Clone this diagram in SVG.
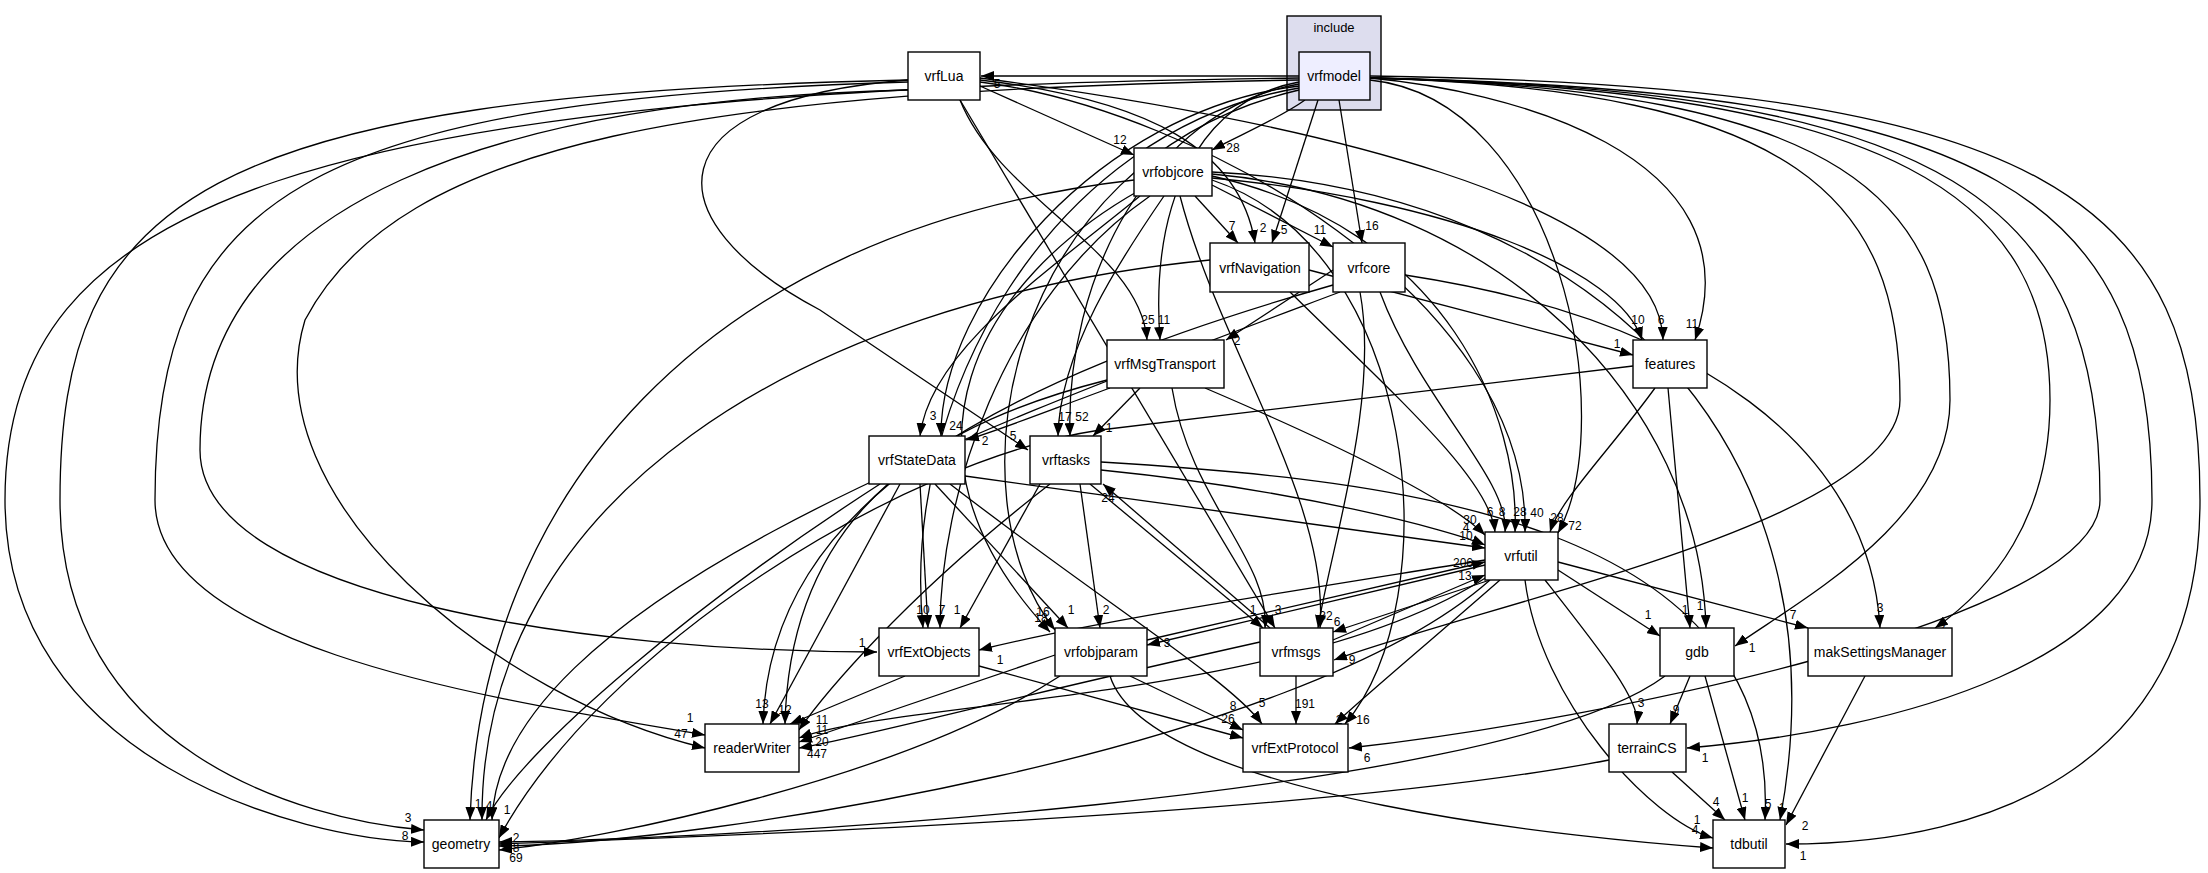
<svg xmlns="http://www.w3.org/2000/svg" width="2208" height="873" viewBox="0 0 2208 873">
<defs>
<marker id="a" markerUnits="userSpaceOnUse" markerWidth="14" markerHeight="10" refX="13" refY="5" orient="auto"><path d="M0,0 L13,5 L0,10 z" fill="#000"/></marker>
<style>
.n rect{fill:#fff;stroke:#000;stroke-width:1.4}
.n text{font-family:"Liberation Sans Narrow","Liberation Sans",sans-serif;font-size:14px;text-anchor:middle}
#e path{fill:none;stroke:#000;stroke-width:1.3;marker-end:url(#a)}
#l text{font-family:"Liberation Sans Narrow","Liberation Sans",sans-serif;font-size:12px;text-anchor:middle}
</style>
</defs>
<rect width="2208" height="873" fill="#fff"/>
<g id="cluster_include"><rect x="1287" y="16" width="94" height="94" fill="#ddddee" stroke="#000" stroke-width="1.4"/><text x="1334" y="32" font-family="Liberation Sans Narrow,Liberation Sans,sans-serif" font-size="13" text-anchor="middle">include</text></g>
<g id="e">
<path d="M1299,76 L981,76"/>
<path d="M1305,100 C1280,118 1240,135 1212,150"/>
<path d="M1318,100 L1272,243"/>
<path d="M1339,100 L1362,243"/>
<path d="M1299,82 C1200,100 1150,200 1160,340"/>
<path d="M1299,86 C1100,110 940,300 941,436"/>
<path d="M1299,84 C1150,110 1065,280 1070,436"/>
<path d="M1370,78 C1500,90 1760,150 1695,340"/>
<path d="M1370,80 C1560,100 1620,420 1558,533"/>
<path d="M1299,88 C1050,130 900,400 923,628"/>
<path d="M1299,90 C1000,160 950,500 1055,630"/>
<path d="M1370,78 C1800,90 1900,200 1900,400 C1900,520 1500,600 1334,660"/>
<path d="M1370,78 C1850,90 1950,200 1950,400 C1950,520 1800,600 1735,646"/>
<path d="M1370,78 C1900,90 2050,200 2050,400 C2050,520 1990,590 1935,628"/>
<path d="M1370,78 C1950,90 2100,200 2100,500 C2100,620 1600,720 1349,748"/>
<path d="M1370,78 C2000,90 2152,200 2152,500 C2152,660 1900,730 1687,748"/>
<path d="M1370,76 C2050,85 2200,200 2200,500 C2200,760 2000,844 1786,844"/>
<path d="M1299,78 C300,90 5,200 5,500 C5,760 300,840 424,842"/>
<path d="M1299,80 C700,90 400,140 305,320 C250,500 500,700 705,748"/>
<path d="M980,86 L1134,155"/>
<path d="M980,80 C1150,100 1240,150 1255,243"/>
<path d="M980,78 C1300,120 1660,200 1663,340"/>
<path d="M980,82 C1200,110 1530,300 1525,532"/>
<path d="M908,80 C650,100 650,220 820,310 L1028,450"/>
<path d="M960,100 L1275,628"/>
<path d="M908,90 C500,100 200,200 200,450 C200,600 600,652 877,652"/>
<path d="M908,82 C300,100 155,200 155,500 C155,650 500,700 705,735"/>
<path d="M908,80 C200,95 60,200 60,500 C60,750 300,820 424,830"/>
<path d="M960,100 C1000,200 1140,250 1147,340"/>
<path d="M1195,196 L1238,243"/>
<path d="M1212,185 L1333,247"/>
<path d="M1140,196 C1050,270 930,350 920,436"/>
<path d="M1164,196 C1120,260 1060,350 1058,436"/>
<path d="M1212,178 C1450,200 1620,270 1642,340"/>
<path d="M1212,176 C1450,230 1520,420 1515,532"/>
<path d="M1212,174 C1500,200 1700,400 1706,628"/>
<path d="M1212,172 C1600,190 1850,450 1780,820"/>
<path d="M1212,180 C1420,250 1450,600 1345,724"/>
<path d="M1180,196 C1220,350 1330,500 1320,628"/>
<path d="M1150,196 C1000,300 940,500 940,628"/>
<path d="M1140,190 C980,280 880,450 1050,632"/>
<path d="M1134,180 C700,230 480,500 470,820"/>
<path d="M1309,270 L1633,355"/>
<path d="M1290,292 C1400,400 1490,480 1495,532"/>
<path d="M1210,260 C800,300 480,500 482,820"/>
<path d="M1333,270 L1226,340"/>
<path d="M1380,292 C1420,400 1510,480 1505,532"/>
<path d="M1405,275 C1700,320 1870,450 1880,628"/>
<path d="M1360,292 C1380,400 1330,550 1318,628"/>
<path d="M1333,285 C1000,380 770,500 763,724"/>
<path d="M1340,292 C1000,420 500,600 492,820"/>
<path d="M1110,388 C1050,410 1000,430 966,440"/>
<path d="M1140,388 L1093,436"/>
<path d="M1205,388 C1350,450 1450,500 1485,535"/>
<path d="M1172,388 C1190,500 1270,560 1265,628"/>
<path d="M1107,380 C950,420 790,500 785,724"/>
<path d="M1655,388 C1610,450 1560,500 1550,532"/>
<path d="M1668,388 L1690,628"/>
<path d="M1633,366 L1100,430 C900,460 600,650 499,838"/>
<path d="M965,476 L1485,548"/>
<path d="M920,484 L928,628"/>
<path d="M935,484 L1068,628"/>
<path d="M950,484 C1100,600 1230,680 1262,724"/>
<path d="M900,484 L770,724"/>
<path d="M880,484 C700,600 520,750 486,820"/>
<path d="M1101,470 C1300,490 1450,530 1485,545"/>
<path d="M1040,484 L960,628"/>
<path d="M1080,484 L1100,628"/>
<path d="M1090,484 L1263,628"/>
<path d="M1050,484 C900,600 820,700 799,730"/>
<path d="M1101,462 C1400,480 1780,520 1765,820"/>
<path d="M1270,628 L1103,484"/>
<path d="M1333,640 L1485,575"/>
<path d="M1260,642 C1000,700 850,740 799,748"/>
<path d="M1296,676 L1296,724"/>
<path d="M1485,560 C1300,590 1100,620 979,650"/>
<path d="M1485,565 L1147,645"/>
<path d="M1490,580 L1333,632"/>
<path d="M1558,570 L1660,636"/>
<path d="M1558,562 L1808,628"/>
<path d="M1545,580 C1600,650 1640,700 1637,724"/>
<path d="M1500,580 C1420,650 1360,700 1335,724"/>
<path d="M1525,580 C1540,700 1650,820 1713,838"/>
<path d="M1490,580 C1300,750 700,844 499,846"/>
<path d="M1490,575 C1300,700 900,700 799,738"/>
<path d="M1147,640 L1485,562"/>
<path d="M1055,655 L799,742"/>
<path d="M1130,676 L1243,730"/>
<path d="M1110,676 C1150,800 1600,840 1713,848"/>
<path d="M1060,676 C900,780 600,840 499,850"/>
<path d="M905,676 L790,724"/>
<path d="M979,666 L1243,738"/>
<path d="M1690,676 L1670,724"/>
<path d="M1705,676 L1745,820"/>
<path d="M1665,676 C1500,800 700,840 499,842"/>
<path d="M1672,772 L1725,820"/>
<path d="M1609,760 C1300,820 600,840 499,844"/>
<path d="M1865,676 L1786,825"/>
</g>
<g id="l">
<text x="997" y="88">5</text><text x="1233" y="152">28</text><text x="1284" y="234">5</text><text x="1372" y="230">16</text>
<text x="1164" y="324">11</text><text x="956" y="430">24</text><text x="1082" y="421">52</text><text x="1692" y="328">11</text>
<text x="1575" y="530">72</text><text x="923" y="614">10</text><text x="1041" y="622">18</text><text x="1352" y="664">9</text>
<text x="1752" y="652">1</text><text x="1942" y="632">2</text><text x="1367" y="762">6</text><text x="1705" y="762">1</text>
<text x="1803" y="860">1</text><text x="405" y="840">8</text><text x="681" y="738">47</text>
<text x="1120" y="144">12</text><text x="1263" y="232">2</text><text x="1661" y="324">6</text><text x="1537" y="517">40</text>
<text x="1013" y="440">5</text><text x="1278" y="614">3</text><text x="862" y="647">1</text><text x="690" y="722">1</text>
<text x="408" y="822">3</text><text x="1148" y="324">25</text>
<text x="1232" y="230">7</text><text x="1320" y="234">11</text><text x="933" y="420">3</text><text x="1065" y="421">17</text>
<text x="1638" y="324">10</text><text x="1520" y="516">28</text><text x="1700" y="610">1</text><text x="1782" y="812">1</text>
<text x="1363" y="724">16</text><text x="1326" y="620">32</text><text x="942" y="614">7</text><text x="1043" y="616">16</text>
<text x="489" y="810">4</text><text x="1617" y="348">1</text><text x="1490" y="516">6</text><text x="478" y="808">1</text>
<text x="1237" y="345">2</text><text x="1502" y="516">8</text><text x="1880" y="612">3</text><text x="1337" y="626">6</text>
<text x="762" y="708">13</text><text x="507" y="814">1</text><text x="985" y="445">2</text><text x="1109" y="432">1</text>
<text x="1470" y="524">30</text><text x="1253" y="614">1</text><text x="785" y="714">12</text><text x="1557" y="522">28</text>
<text x="1685" y="614">1</text><text x="516" y="842">2</text><text x="1466" y="540">10</text><text x="1071" y="614">1</text>
<text x="1262" y="707">5</text><text x="1466" y="532">4</text><text x="957" y="614">1</text><text x="1106" y="614">2</text>
<text x="822" y="724">11</text><text x="1768" y="808">5</text><text x="1108" y="502">24</text><text x="1465" y="580">13</text>
<text x="822" y="746">20</text><text x="1305" y="708">191</text><text x="1000" y="664">1</text><text x="1167" y="647">3</text>
<text x="1648" y="619">1</text><text x="1793" y="619">7</text><text x="1641" y="707">3</text><text x="1339" y="724">2</text>
<text x="1697" y="824">1</text><text x="516" y="852">8</text><text x="822" y="734">11</text><text x="1463" y="567">206</text>
<text x="817" y="758">447</text><text x="1233" y="710">8</text><text x="1695" y="834">4</text><text x="516" y="862">69</text>
<text x="1228" y="723">26</text><text x="1676" y="714">9</text><text x="1745" y="802">1</text><text x="1716" y="806">4</text>
<text x="1805" y="830">2</text>
</g>
<g id="vrfmodel" class="n"><rect x="1299" y="52" width="71" height="48" style="fill:#eeeeff"/><text x="1334" y="81">vrfmodel</text></g>
<g id="vrfLua" class="n"><rect x="908" y="52" width="72" height="48"/><text x="944" y="81">vrfLua</text></g>
<g id="vrfobjcore" class="n"><rect x="1134" y="148" width="78" height="48"/><text x="1173" y="177">vrfobjcore</text></g>
<g id="vrfNavigation" class="n"><rect x="1210" y="243" width="99" height="49"/><text x="1260" y="273">vrfNavigation</text></g>
<g id="vrfcore" class="n"><rect x="1333" y="243" width="72" height="49"/><text x="1369" y="273">vrfcore</text></g>
<g id="vrfMsgTransport" class="n"><rect x="1107" y="340" width="117" height="48"/><text x="1165" y="369">vrfMsgTransport</text></g>
<g id="features" class="n"><rect x="1633" y="340" width="74" height="48"/><text x="1670" y="369">features</text></g>
<g id="vrfStateData" class="n"><rect x="869" y="436" width="96" height="48"/><text x="917" y="465">vrfStateData</text></g>
<g id="vrftasks" class="n"><rect x="1030" y="436" width="71" height="48"/><text x="1066" y="465">vrftasks</text></g>
<g id="vrfutil" class="n"><rect x="1485" y="532" width="73" height="48"/><text x="1521" y="561">vrfutil</text></g>
<g id="vrfExtObjects" class="n"><rect x="879" y="628" width="100" height="48"/><text x="929" y="657">vrfExtObjects</text></g>
<g id="vrfobjparam" class="n"><rect x="1055" y="628" width="92" height="48"/><text x="1101" y="657">vrfobjparam</text></g>
<g id="vrfmsgs" class="n"><rect x="1260" y="628" width="73" height="48"/><text x="1296" y="657">vrfmsgs</text></g>
<g id="gdb" class="n"><rect x="1660" y="628" width="74" height="48"/><text x="1697" y="657">gdb</text></g>
<g id="makSettingsManager" class="n"><rect x="1808" y="628" width="144" height="48"/><text x="1880" y="657">makSettingsManager</text></g>
<g id="readerWriter" class="n"><rect x="705" y="724" width="94" height="48"/><text x="752" y="753">readerWriter</text></g>
<g id="vrfExtProtocol" class="n"><rect x="1243" y="724" width="105" height="48"/><text x="1295" y="753">vrfExtProtocol</text></g>
<g id="terrainCS" class="n"><rect x="1609" y="724" width="77" height="48"/><text x="1647" y="753">terrainCS</text></g>
<g id="geometry" class="n"><rect x="424" y="820" width="75" height="48"/><text x="461" y="849">geometry</text></g>
<g id="tdbutil" class="n"><rect x="1713" y="820" width="72" height="48"/><text x="1749" y="849">tdbutil</text></g>
</svg>
